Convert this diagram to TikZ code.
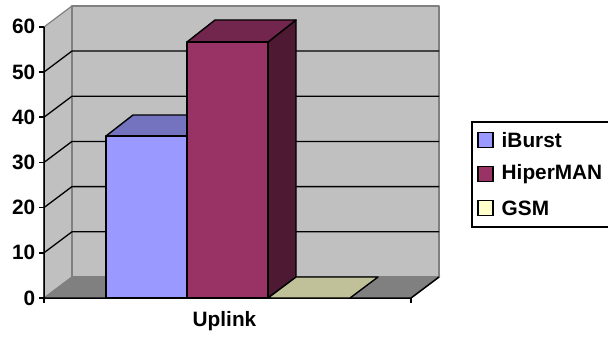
\documentclass[tikz,border=0pt]{standalone}
\usepackage{fontspec}
\setmainfont{Liberation Sans}
\definecolor{wallc}{RGB}{192,192,192}
\definecolor{floorc}{RGB}{128,128,128}
\definecolor{edgec}{RGB}{128,128,128}
\definecolor{ibF}{RGB}{153,153,255}
\definecolor{ibT}{RGB}{115,115,191}
\definecolor{hmF}{RGB}{153,51,102}
\definecolor{hmT}{RGB}{115,38,77}
\definecolor{hmS}{RGB}{77,25,51}
\definecolor{gsmT}{RGB}{192,192,153}
\definecolor{gsmL}{RGB}{255,255,204}
\begin{document}
\begin{tikzpicture}[x=1pt,y=-1pt,
  lab/.style={font=\fontsize{20.8}{25}\selectfont\bfseries, inner sep=0pt},
  wall/.style={fill=wallc, draw=edgec, line width=1.2pt, line join=round},
  grid/.style={draw=black, line width=1.3pt},
  axisline/.style={draw=black, line width=1.5pt},
  bar/.style={draw=black, line width=1.4pt, line join=round},
  key/.style={draw=black, line width=1.2pt, minimum size=15pt, inner sep=0pt}]
\useasboundingbox (0,0) rectangle (608,337);
\clip (0,0) rectangle (608,337);
% walls and floor
\filldraw[wall] (44,298) -- (44,27) -- (72,6) -- (72,277) -- cycle;
\filldraw[wall] (72,6) rectangle (439,277);
\filldraw[fill=floorc, draw=edgec, line width=1pt] (44,298) -- (72,277) -- (439,277) -- (411,298) -- cycle;
% gridlines
\foreach \k in {1,...,5} {
  \draw[grid] (44,{298-45.2*\k}) -- (72,{277-45.2*\k}) -- (439,{277-45.2*\k});
}
% axes
\draw[axisline] (44,27) -- (44,298) -- (411,298) -- (439,277);
\draw[axisline] (44,298) -- (44,303);
\draw[axisline] (411,298) -- (411,303);
\foreach \k/\v in {0/0,1/10,2/20,3/30,4/40,5/50,6/60} {
  \draw[axisline] (39,{298-45.2*\k}) -- (44,{298-45.2*\k});
  \node[lab, anchor=east] (t\k) at (35.5,{298-45.2*\k}) {\v};
}
% iBurst bar
\filldraw[bar, fill=ibT] (106,136) -- (133,115) -- (214,115) -- (187,136) -- cycle;
\filldraw[bar, fill=ibF] (106,136) rectangle (187,298);
% HiperMAN bar
\filldraw[bar, fill=hmS] (268,42) -- (296,20) -- (296,277) -- (268,298) -- cycle;
\filldraw[bar, fill=hmT] (187,42) -- (215,20) -- (296,20) -- (268,42) -- cycle;
\filldraw[bar, fill=hmF] (187,42) rectangle (268,298);
% GSM bar (zero height)
\filldraw[bar, fill=gsmT] (268,298) -- (296,277) -- (378,277) -- (350,298) -- cycle;
% category label
\node[lab] (cat) at (224.5,321) {Uplink};
% legend
\draw[draw=black, line width=1.3pt] (472,122) rectangle (620,227);
\node[key, fill=ibF] (k1) at (485.5,140) {};
\node[key, fill=hmF] (k2) at (485.5,174) {};
\node[key, fill=gsmL] (k3) at (485.5,208) {};
\node[lab, anchor=west] (l1) at (501.5,140) {iBurst};
\node[lab, anchor=west] (l2) at (501.5,174) {HiperMAN};
\node[lab, anchor=west] (l3) at (501.5,208) {GSM};
\end{tikzpicture}
\end{document}
